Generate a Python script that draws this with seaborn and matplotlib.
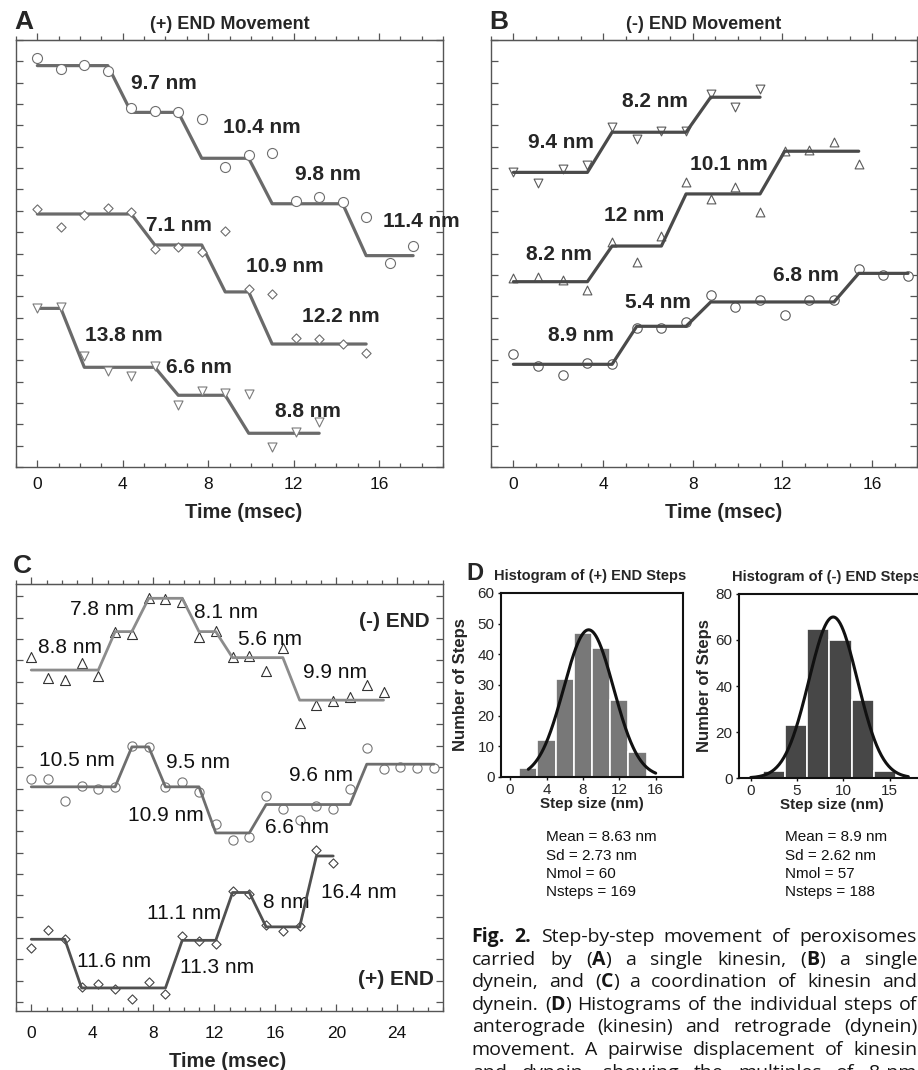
import numpy as np
import seaborn as sns
import matplotlib.pyplot as plt
from matplotlib.ticker import MultipleLocator

W, H = 918, 1070

# video frame times (msec)
frame_t = [0.0, 1.1, 2.2, 3.3, 4.4, 5.5, 6.6, 7.7, 8.8, 9.9, 11.0, 12.1, 13.2,
           14.3, 15.4, 16.5, 17.6, 18.7, 19.8, 20.9, 22.0, 23.1, 24.2, 25.3, 26.4]

# --- A: (+) END movement (position in tick units) ---
a1_pos = [19.14, 18.66, 18.83, 18.55, 16.80, 16.69, 16.64, 16.30, 14.07, 14.60,
          14.71, 12.47, 12.63, 12.39, 11.70, 9.54, 10.35]
a1_fit_t = [0, 3.3, 4.4, 6.6, 7.7, 9.9, 11.0, 14.3, 15.4, 17.6]
a1_fit_y = [18.80, 18.80, 16.61, 16.61, 14.46, 14.46, 12.33, 12.33, 9.90, 9.90]
a1_steps = ["9.7 nm", "10.4 nm", "9.8 nm", "11.4 nm"]

a2_pos = [12.07, 11.24, 11.79, 12.12, 11.93, 10.20, 10.29, 10.08, 11.07, 8.35,
          8.10, 6.03, 6.00, 5.75, 5.32]
a2_fit_t = [0, 4.4, 5.5, 7.7, 8.8, 9.9, 11.0, 15.4]
a2_fit_y = [11.85, 11.85, 10.40, 10.40, 8.20, 8.20, 5.76, 5.76]
a2_steps = ["7.1 nm", "10.9 nm", "12.2 nm"]

a3_pos = [7.43, 7.51, 5.20, 4.51, 4.26, 4.73, 2.90, 3.56, 3.48, 3.43, 0.95, 1.65, 2.12]
a3_fit_t = [0, 1.1, 2.2, 5.5, 6.6, 8.8, 9.9, 13.2]
a3_fit_y = [7.43, 7.43, 4.67, 4.67, 3.36, 3.36, 1.58, 1.58]
a3_steps = ["13.8 nm", "6.6 nm", "8.8 nm"]

# --- B: (-) END movement ---
b1_pos = [13.80, 13.32, 13.96, 14.16, 15.93, 15.35, 15.74, 15.75, 17.47, 16.85, 17.69]
b1_fit_t = [0, 3.3, 4.4, 7.7, 8.8, 11.0]
b1_fit_y = [13.80, 13.80, 15.68, 15.68, 17.32, 17.32]
b1_steps = ["9.4 nm", "8.2 nm"]

b2_pos = [8.87, 8.89, 8.76, 8.29, 10.55, 9.59, 10.83, 13.36, 12.54, 13.13, 11.94,
          14.81, 14.85, 15.21, 14.18]
b2_fit_t = [0, 3.3, 4.4, 6.6, 7.7, 11.0, 12.1, 15.4]
b2_fit_y = [8.68, 8.68, 10.35, 10.35, 12.79, 12.79, 14.79, 14.79]
b2_steps = ["8.2 nm", "12 nm", "10.1 nm"]

b3_pos = [5.29, 4.74, 4.31, 4.86, 4.82, 6.51, 6.51, 6.78, 8.07, 7.49, 7.84, 7.12,
          7.82, 7.82, 9.26, 9.01, 8.93]
b3_fit_t = [0, 4.4, 5.5, 7.7, 8.8, 14.3, 15.4, 17.6]
b3_fit_y = [4.81, 4.81, 6.59, 6.59, 7.73, 7.73, 9.07, 9.07]
b3_steps = ["8.9 nm", "5.4 nm", "6.8 nm"]

# --- C: kinesin + dynein coordination ---
c1_pos = [16.15, 15.16, 15.08, 15.87, 15.28, 17.35, 17.22, 18.94, 18.87, 18.75, 17.11,
          17.38, 16.16, 16.21, 15.50, 16.57, 13.08, 13.91, 14.08, 14.27, 14.86, 14.51]
c1_fit_t = [0, 4.4, 5.5, 6.6, 7.7, 9.9, 11.0, 12.1, 13.2, 16.5, 17.6, 23.1]
c1_fit_y = [15.55, 15.55, 17.35, 17.35, 18.91, 18.91, 17.35, 17.35, 16.13, 16.13, 14.14, 14.14]
c1_steps = ["8.8 nm", "7.8 nm", "8.1 nm", "5.6 nm", "9.9 nm"]

c2_pos = [10.44, 10.44, 9.42, 10.10, 10.00, 10.08, 12.00, 11.93, 10.08, 10.31, 9.85,
          8.36, 7.61, 7.74, 9.66, 9.03, 8.52, 9.17, 9.02, 9.97, 11.88, 10.92, 11.02,
          10.97, 10.94]
c2_fit_t = [0, 5.5, 6.6, 7.7, 8.8, 11.0, 12.1, 14.3, 15.4, 20.9, 22.0, 26.4]
c2_fit_y = [10.08, 10.08, 11.95, 11.95, 10.08, 10.08, 7.92, 7.92, 9.25, 9.25, 11.14, 11.14]
c2_steps = ["10.5 nm", "9.5 nm", "10.9 nm", "6.6 nm", "9.6 nm"]

c3_pos = [2.55, 3.36, 2.97, 0.70, 0.86, 0.60, 0.13, 0.94, 0.39, 3.08, 2.85, 2.74,
          5.19, 5.08, 3.60, 3.33, 3.56, 7.11, 6.49]
c3_fit_t = [0, 2.2, 3.3, 8.8, 9.9, 12.1, 13.2, 14.3, 15.4, 17.6, 18.7, 19.8]
c3_fit_y = [2.94, 2.94, 0.66, 0.66, 2.89, 2.89, 5.13, 5.13, 3.52, 3.52, 6.84, 6.84]
c3_steps = ["11.6 nm", "11.3 nm", "11.1 nm", "8 nm", "16.4 nm"]

# --- D: step size histograms ---
plus_edges = [1, 3, 5, 7, 9, 11, 13, 15]
plus_centers = [2, 4, 6, 8, 10, 12, 14]
plus_counts = [3, 12, 32, 47, 42, 25, 8]
plus_fit = (8.63, 2.73, 48)   # mean, sd, peak height
plus_stats = ["Mean = 8.63 nm", "Sd = 2.73 nm", "Nmol = 60", "Nsteps = 169"]

minus_edges = [1.28, 3.68, 6.08, 8.48, 10.88, 13.28, 15.68]
minus_centers = [2.48, 4.88, 7.28, 9.68, 12.08, 14.48]
minus_counts = [3, 23, 65, 60, 34, 3]
minus_fit = (8.9, 2.62, 70)
minus_stats = ["Mean = 8.9 nm", "Sd = 2.62 nm", "Nmol = 57", "Nsteps = 188"]

caption = [
    "**Fig.** **2.** Step-by-step movement of peroxisomes",
    "carried by (**A**) a single kinesin, (**B**) a single",
    "dynein, and (**C**) a coordination of kinesin and",
    "dynein. (**D**) Histograms of the individual steps of",
    "anterograde (kinesin) and retrograde (dynein)",
    "movement. A pairwise displacement of kinesin",
    "and dynein, showing the multiples of 8-nm",
]

# label positions (data coords) -- layout only
a_lab = [[(4.39, 17.94), (8.70, 15.88), (12.07, 13.72), (16.19, 11.48)],
         [(5.09, 11.33), (9.77, 9.37), (12.40, 7.07)],
         [(2.23, 6.18), (6.02, 4.64), (11.13, 2.58)]]
b_lab = [[(0.64, 15.21), (4.86, 17.14)],
         [(0.55, 9.96), (4.04, 11.80), (7.87, 14.15)],
         [(1.56, 6.18), (4.98, 7.71), (11.57, 8.99)]]
c_lab = [[(0.42, 16.62), (2.54, 18.40), (10.68, 18.24), (13.53, 17.00), (17.79, 15.44)],
         [(0.53, 11.30), (8.81, 11.22), (6.32, 8.72), (15.36, 8.16), (16.91, 10.60)],
         [(3.02, 1.91), (9.75, 1.64), (7.60, 4.14), (15.21, 4.66), (18.97, 5.13)]]

sns.set_style("ticks")
plt.rcParams["font.family"] = ["Liberation Sans", "DejaVu Sans"]

fig = plt.figure(figsize=(W / 100, H / 100), dpi=100)
FRAME = "#555555"


def add_axes_px(left, top, right, bottom):
    return fig.add_axes([left / W, 1 - bottom / H, (right - left) / W, (bottom - top) / H])


def trace_axes(box, xlim, ylim, xticks, yticks, label_pad):
    ax = add_axes_px(*box)
    ax.set_xlim(*xlim)
    ax.set_ylim(*ylim)
    ax.set_xticks(xticks)
    ax.xaxis.set_minor_locator(MultipleLocator(1))
    ax.set_yticks(yticks)
    ax.tick_params(axis="x", which="both", direction="in", colors=FRAME,
                   labelcolor="#111111", labelsize=12.5, pad=label_pad, width=0.9)
    ax.tick_params(axis="x", which="major", length=5)
    ax.tick_params(axis="x", which="minor", length=3)
    ax.tick_params(axis="y", direction="in", left=True, right=True, length=5,
                   labelleft=False, colors=FRAME, width=0.9)
    for s in ax.spines.values():
        s.set_visible(True)
        s.set_color(FRAME)
        s.set_linewidth(1.0)
    sec = ax.secondary_xaxis("top")
    sec.set_xticks(xticks)
    sec.xaxis.set_minor_locator(MultipleLocator(1))
    sec.tick_params(which="both", direction="out", labeltop=False, colors=FRAME, width=0.9)
    sec.tick_params(which="major", length=5)
    sec.tick_params(which="minor", length=3)
    sec.spines["top"].set_color(FRAME)
    return ax


def trace(ax, pos, fit_t, fit_y, marker, size, edge, line_col, lw, line_top):
    t = frame_t[:len(pos)]
    sns.lineplot(x=fit_t, y=fit_y, ax=ax, color=line_col, linewidth=lw,
                 sort=False, estimator=None, zorder=4 if line_top else 2)
    sns.scatterplot(x=t, y=pos, ax=ax, marker=marker, s=size, color="white",
                    edgecolor=edge, linewidth=0.8, zorder=3, clip_on=False)


def step_labels(ax, texts, xy, **kw):
    for txt, (x, y) in zip(texts, xy):
        ax.text(x, y, txt, ha="left", va="center", fontsize=15, **kw)


# ---------------- A ----------------
axA = trace_axes((16, 40, 443, 467), (-1, 19), (0, 20), [0, 4, 8, 12, 16], range(0, 21), 7)
trace(axA, a1_pos, a1_fit_t, a1_fit_y, "o", 52, "#6e6e6e", "#6a6a6a", 2.3, False)
trace(axA, a2_pos, a2_fit_t, a2_fit_y, "D", 22, "#6e6e6e", "#6a6a6a", 2.3, False)
trace(axA, a3_pos, a3_fit_t, a3_fit_y, "v", 42, "#7a7a7a", "#6a6a6a", 2.3, False)
for steps, xy in zip([a1_steps, a2_steps, a3_steps], a_lab):
    step_labels(axA, steps, xy, fontweight="bold")
axA.set_title("(+) END Movement", fontsize=13, fontweight="bold", y=1.026, pad=0)
axA.set_xlabel("Time (msec)", fontsize=14.5, fontweight="bold")
axA.xaxis.set_label_coords(0.532, -0.085)

# ---------------- B ----------------
axB = trace_axes((491, 40, 917, 467), (-1, 18), (0, 20), [0, 4, 8, 12, 16], range(0, 21), 7)
trace(axB, b1_pos, b1_fit_t, b1_fit_y, "v", 40, "#5a5a5a", "#4a4a4a", 2.3, True)
trace(axB, b2_pos, b2_fit_t, b2_fit_y, "^", 40, "#5a5a5a", "#4a4a4a", 2.3, True)
trace(axB, b3_pos, b3_fit_t, b3_fit_y, "o", 46, "#5a5a5a", "#4a4a4a", 2.3, True)
for steps, xy in zip([b1_steps, b2_steps, b3_steps], b_lab):
    step_labels(axB, steps, xy, fontweight="bold")
axB.set_title("(-) END Movement", fontsize=13, fontweight="bold", y=1.026, pad=0)
axB.set_xlabel("Time (msec)", fontsize=14.5, fontweight="bold")
axB.xaxis.set_label_coords(0.545, -0.085)

# ---------------- C ----------------
axC = trace_axes((16, 584, 443, 1011), (-1, 27), (-0.42, 19.58), [0, 4, 8, 12, 16, 20, 24],
                 range(0, 20), 11)
trace(axC, c1_pos, c1_fit_t, c1_fit_y, "^", 52, "#333333", "#8c8c8c", 2.0, True)
trace(axC, c2_pos, c2_fit_t, c2_fit_y, "o", 44, "#777777", "#6e6e6e", 2.0, True)
trace(axC, c3_pos, c3_fit_t, c3_fit_y, "D", 22, "#444444", "#505050", 2.0, True)
for steps, xy in zip([c1_steps, c2_steps, c3_steps], c_lab):
    step_labels(axC, steps, xy, color="#111111")
axC.text(26.13, 17.82, "(-) END", ha="right", va="center", fontsize=15, fontweight="bold")
axC.text(26.39, 1.05, "(+) END", ha="right", va="center", fontsize=15, fontweight="bold")
axC.set_xlabel("Time (msec)", fontsize=14.5, fontweight="bold")
axC.xaxis.set_label_coords(0.496, -0.095)


# ---------------- D ----------------
def hist_axes(box, xlim, ylim, xticks, yticks, centers, counts, edges, fit, curve_range,
              color, title, title_x, ylabel_x):
    ax = add_axes_px(*box)
    sns.histplot(x=centers, weights=counts, bins=edges, ax=ax, color=color,
                 edgecolor="white", linewidth=1.2, alpha=1)
    mean, sd, peak = fit
    xs = np.linspace(curve_range[0], curve_range[1], 200)
    sns.lineplot(x=xs, y=peak * np.exp(-(xs - mean) ** 2 / (2 * sd ** 2)), ax=ax,
                 color="#111111", linewidth=2.2)
    ax.set_xlim(*xlim)
    ax.set_ylim(*ylim)
    ax.set_xticks(xticks)
    ax.set_yticks(yticks)
    ax.tick_params(direction="out", length=2.5, width=1, labelsize=11, pad=2, color="#111111")
    for s in ax.spines.values():
        s.set_visible(True)
        s.set_color("#111111")
        s.set_linewidth(1.5)
    ax.set_xlabel("Step size (nm)", fontsize=11, fontweight="bold", labelpad=0)
    ax.set_ylabel("Number of Steps", fontsize=12, fontweight="bold")
    ax.yaxis.set_label_coords(ylabel_x, 0.5)
    ax.text(title_x, 1.07, title, transform=ax.transAxes, ha="center", va="baseline",
            fontsize=10.5, fontweight="bold")
    return ax


axD1 = hist_axes((501, 593, 683, 777), (-1, 19), (0, 60), [0, 4, 8, 12, 16], range(0, 61, 10),
                 plus_centers, plus_counts, plus_edges, plus_fit, (2, 16), "#787878",
                 "Histogram of (+) END Steps", 0.49, -0.18)
axD2 = hist_axes((739, 594, 925, 778), (-1.26, 18.8), (0, 80), [0, 5, 10, 15], range(0, 81, 20),
                 minus_centers, minus_counts, minus_edges, minus_fit, (0, 17), "#474747",
                 "Histogram of (-) END Steps", 0.4715, -0.145)

for x0, lines in [(546, plus_stats), (785, minus_stats)]:
    for i, line in enumerate(lines):
        fig.text(x0 / W, 1 - (837.3 + 18.2 * i) / H, line, fontsize=11, va="center",
                 color="#111111")

# panel letters
for letter, x, y, size in [("A", 14, 29, 19), ("B", 489, 29, 19), ("C", 13, 573, 19),
                           ("D", 466, 580, 17)]:
    fig.text(x / W, 1 - y / H, letter, fontsize=size, fontweight="bold", va="baseline")

# justified caption
renderer = fig.canvas.get_renderer()
cap_family = ["Open Sans", "DejaVu Sans"]
cap_left, cap_right = 471.7, 917.0
for i, line in enumerate(caption):
    base_y = 1 - (942 + 22.6 * i) / H
    words = []
    for word in line.split(" "):
        parts = []
        for j, seg in enumerate(word.split("**")):
            if seg:
                t = fig.text(0, base_y, seg, fontsize=14, family=cap_family, va="baseline",
                             fontweight="bold" if j % 2 else "normal", color="#151515")
                parts.append((t, t.get_window_extent(renderer).width))
        words.append(parts)
    total = sum(w for parts in words for _, w in parts)
    gap = max((cap_right - cap_left - total) / (len(words) - 1), 3.0)
    x = cap_left
    for parts in words:
        for t, w in parts:
            t.set_x(x / W)
            x += w
        x += gap

fig.savefig("out.png", dpi=100)
